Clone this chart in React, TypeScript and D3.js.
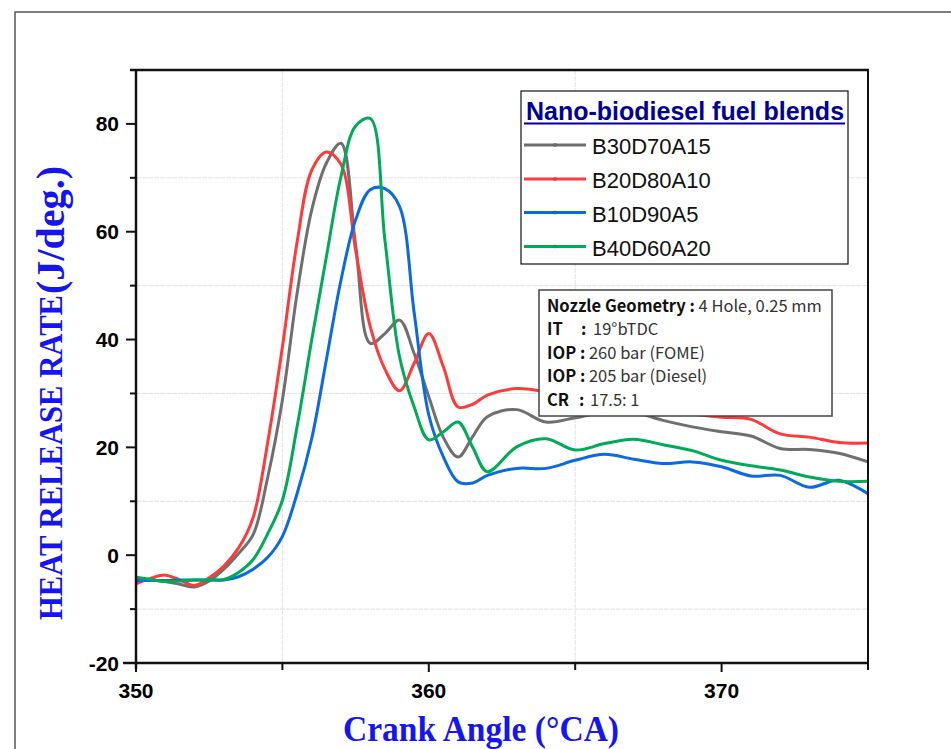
import React from "react";
import * as d3 from "d3";

const angles = [350, 350.5, 351, 351.5, 352, 352.5, 353, 353.5, 354, 354.5, 355, 355.5, 356, 356.5, 357, 357.5, 358, 358.5, 359, 359.5, 360, 360.5, 361, 361.5, 362, 363, 364, 365, 366, 367, 368, 369, 370, 371, 372, 373, 374, 375];

const b30d70a15 = [-4.7, -4.6, -4.9, -5.4, -5.9, -4.8, -2.6, 0.3, 3.8, 14.5, 28.8, 48.5, 64.0, 72.7, 76.4, 57.6, 39.3, 41.1, 43.6, 37.4, 29.4, 21.8, 18.2, 22.0, 25.7, 27.0, 24.7, 25.5, 26.5, 26.5, 25.0, 23.8, 22.9, 22.1, 19.8, 19.6, 18.9, 17.3];
const b20d80a10 = [-5.3, -4.3, -3.7, -4.6, -5.6, -4.2, -2.0, 1.3, 7.0, 21.0, 38.6, 58.0, 71.4, 74.8, 72.5, 56.6, 42.4, 34.5, 30.5, 35.6, 41.1, 34.9, 27.5, 28.0, 29.7, 30.9, 30.3, 29.5, 28.5, 28.0, 27.0, 26.2, 25.6, 25.2, 22.5, 21.9, 20.9, 20.8];
const b10d90a5 = [-4.7, -4.7, -4.7, -4.6, -4.6, -4.6, -4.6, -4.0, -2.6, -0.4, 3.5, 11.4, 21.6, 36.2, 51.0, 62.2, 67.8, 68.0, 64.7, 45.0, 26.0, 18.2, 13.6, 13.4, 14.8, 16.1, 16.1, 17.6, 18.7, 17.8, 17.0, 17.3, 16.4, 14.7, 14.8, 12.6, 13.9, 11.4];
const b40d60a20 = [-4.1, -4.5, -4.9, -4.8, -4.6, -4.6, -4.5, -3.2, -0.8, 4.0, 10.2, 23.8, 39.9, 55.3, 70.2, 79.6, 81.0, 58.5, 36.8, 27.5, 21.4, 22.9, 24.7, 20.0, 15.5, 20.1, 21.6, 19.5, 20.7, 21.5, 20.5, 19.4, 17.6, 16.6, 15.8, 14.5, 13.7, 13.7];

const seriesNames = ["B30D70A15", "B20D80A10", "B10D90A5", "B40D60A20"];
const seriesValues = [b30d70a15, b20d80a10, b10d90a5, b40d60a20];
const seriesColors = ["#6f6f6f", "#ff3a3a", "#0a6ae0", "#00aa58"];

const xMajorTicks = [350, 360, 370];
const xMinorTicks = [355, 365, 375];
const yMajorTicks = [-20, 0, 20, 40, 60, 80];
const yMinorTicks = [-10, 10, 30, 50, 70];

const legendTitle = "Nano-biodiesel fuel blends";
const infoLines = [
  { label: "Nozzle Geometry :", colon: "", value: " 4 Hole, 0.25 mm" },
  { label: "IT", colon: ":", value: "19°bTDC" },
  { label: "IOP :", colon: "", value: " 260 bar (FOME)" },
  { label: "IOP :", colon: "", value: " 205 bar (Diesel)" },
  { label: "CR", colon: ":", value: "17.5: 1" },
];

const L = 136, R = 868, T = 70, B = 663;

export default function App() {
  const x = d3.scaleLinear().domain([350, 375]).range([L, R]);
  const y = d3.scaleLinear().domain([-20, 90]).range([B, T]);
  const line = d3
    .line<number>()
    .x((_, i) => x(angles[i]))
    .y((d) => y(d))
    .curve(d3.curveCatmullRom.alpha(0.5));

  const sans = "'Liberation Sans', Arial, sans-serif";
  const serif = "'Liberation Serif', 'Times New Roman', serif";
  const jp = "'Noto Sans CJK JP', 'Noto Sans', sans-serif";
  const legendRows = [145, 179, 212.5, 246.5];

  return (
    <svg width={951} height={749} style={{ position: "absolute", left: 0, top: 0, background: "#fff" }}>
      <defs>
        <clipPath id="plotclip">
          <rect x={L} y={T} width={R - L} height={B - T} />
        </clipPath>
      </defs>
      <rect x={0} y={0} width={951} height={749} fill="#fff" />
      {/* outer frame */}
      <path d="M15,760 L15,12 L960,12" fill="none" stroke="#555" strokeWidth={1.5} />

      {/* grid */}
      {xMinorTicks.filter((t) => t < 375).map((t) => (
        <line key={"gx" + t} x1={x(t)} x2={x(t)} y1={T} y2={B} stroke="#e2e2e2" strokeWidth={1} strokeDasharray="5,1" />
      ))}
      {yMinorTicks.map((t) => (
        <line key={"gy" + t} x1={L} x2={R} y1={y(t)} y2={y(t)} stroke="#e2e2e2" strokeWidth={1} strokeDasharray="5,1" />
      ))}

      {/* series */}
      <g clipPath="url(#plotclip)">
        {seriesValues.map((vals, i) => (
          <path key={seriesNames[i]} d={line(vals) || ""} fill="none" stroke={seriesColors[i]} strokeWidth={3} strokeLinejoin="round" />
        ))}
      </g>

      {/* frame */}
      <line x1={130} x2={R + 1} y1={T} y2={T} stroke="#111" strokeWidth={2.5} />
      <line x1={R} x2={R} y1={T} y2={B} stroke="#111" strokeWidth={2} />
      <line x1={L} x2={L} y1={T - 1} y2={B + 6} stroke="#111" strokeWidth={2.5} />
      <line x1={123} x2={R + 1} y1={B} y2={B} stroke="#111" strokeWidth={2.5} />

      {/* x ticks */}
      {xMajorTicks.map((t) => (
        <line key={"xt" + t} x1={x(t)} x2={x(t)} y1={B} y2={B + 9} stroke="#111" strokeWidth={2} />
      ))}
      {xMinorTicks.map((t) => (
        <line key={"xm" + t} x1={x(t)} x2={x(t)} y1={B} y2={B + 7} stroke="#111" strokeWidth={2} />
      ))}
      {xMajorTicks.map((t) => (
        <text key={"xl" + t} x={x(t)} y={698} textAnchor="middle" fontFamily={sans} fontWeight="bold" fontSize={21} fill="#000">
          {t}
        </text>
      ))}

      {/* y ticks */}
      {yMajorTicks.map((t) => (
        <line key={"yt" + t} x1={L - 10} x2={L} y1={y(t)} y2={y(t)} stroke="#111" strokeWidth={2} />
      ))}
      {yMinorTicks.map((t) => (
        <line key={"ym" + t} x1={L - 6} x2={L} y1={y(t)} y2={y(t)} stroke="#111" strokeWidth={2} />
      ))}
      {yMajorTicks.map((t) => (
        <text key={"yl" + t} x={119} y={y(t) + 7.5} textAnchor="end" fontFamily={sans} fontWeight="bold" fontSize={21} fill="#000">
          {t}
        </text>
      ))}

      {/* axis titles */}
      <text
        transform="translate(62,620) rotate(-90)"
        fontFamily={serif}
        fontWeight="bold"
        fontSize={33}
        fill="#1515f0"
        textLength={325}
        lengthAdjust="spacingAndGlyphs"
      >
        HEAT RELEASE RATE
      </text>
      <text
        transform="translate(64,294) rotate(-90)"
        fontFamily={serif}
        fontWeight="bold"
        fontSize={40}
        fill="#1515f0"
        textLength={128}
        lengthAdjust="spacingAndGlyphs"
      >
        (J/deg.)
      </text>
      <text x={343} y={741} fontFamily={serif} fontWeight="bold" fontSize={35} fill="#1515f0" textLength={276} lengthAdjust="spacingAndGlyphs">
        Crank Angle (°CA)
      </text>

      {/* legend */}
      <rect x={521} y={91} width={327} height={173} fill="#fff" stroke="#111" strokeWidth={1.2} />
      <text x={685} y={120} textAnchor="middle" fontFamily={sans} fontWeight="bold" fontSize={25} fill="#000099">
        {legendTitle}
      </text>
      <line x1={524} x2={845} y1={123.5} y2={123.5} stroke="#000099" strokeWidth={2.2} />
      {seriesNames.map((n, i) => (
        <g key={"lg" + n}>
          <line x1={524} x2={586} y1={legendRows[i]} y2={legendRows[i]} stroke={seriesColors[i]} strokeWidth={3} />
          <circle cx={555} cy={legendRows[i]} r={1.8} fill={seriesColors[i]} stroke="#00000033" strokeWidth={0.5} />
          <text x={592} y={legendRows[i] + 9} fontFamily={sans} fontSize={22} fill="#111">
            {n}
          </text>
        </g>
      ))}

      {/* info box */}
      <rect x={539} y={290} width={293} height={126} fill="#fff" stroke="#444" strokeWidth={1.5} />
      {infoLines.map((ln, i) => {
        const by = 312 + i * 23.4;
        return (
          <g key={"info" + i}>
            <text x={547} y={by} fontFamily={jp} fontSize={16.5} fill="#111">
              <tspan fontWeight="bold">{ln.label}</tspan>
              {ln.colon === "" ? <tspan fill="#333">{ln.value}</tspan> : null}
            </text>
            {ln.colon !== "" ? (
              <>
                <text x={i === 1 ? 581 : 579} y={by} fontFamily={jp} fontWeight="bold" fontSize={16.5} fill="#111">
                  {ln.colon}
                </text>
                <text x={i === 1 ? 593 : 590} y={by} fontFamily={jp} fontSize={16.5} fill="#333">
                  {ln.value}
                </text>
              </>
            ) : null}
          </g>
        );
      })}
    </svg>
  );
}
